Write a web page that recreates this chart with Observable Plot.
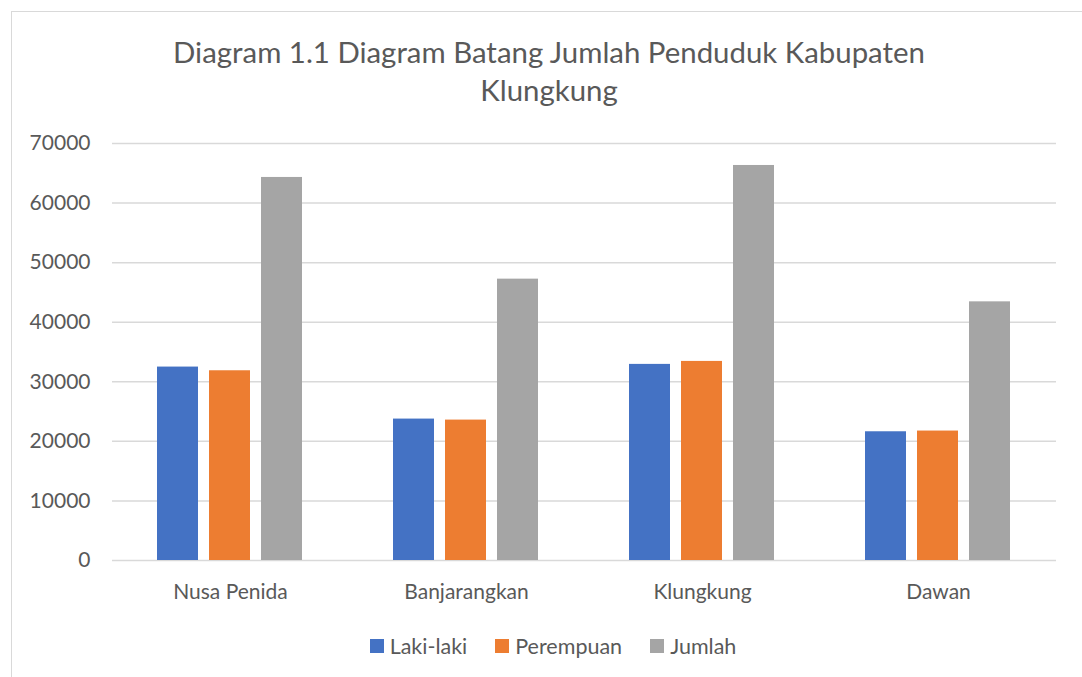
<!DOCTYPE html>
<html>
<head>
<meta charset="utf-8">
<script src="https://cdn.jsdelivr.net/npm/d3@7"></script>
<script src="https://cdn.jsdelivr.net/npm/@observablehq/plot@0.6"></script>
<style>
  html, body { margin:0; padding:0; background:#fff; }
  body { width:1082px; height:677px; position:relative; overflow:hidden; font-family: Lato, "Open Sans", sans-serif; color:#595959; }
  #frame { position:absolute; left:11px; top:11px; width:1200px; height:800px; border-left:1.5px solid #d9d9d9; border-top:1.5px solid #d9d9d9; }
  #title { position:absolute; left:0; width:1098px; top:33px; text-align:center; font-size:29.4px; line-height:38px; color:#595959; }
  #chart { position:absolute; left:0; top:120px; }
  #legend { position:absolute; left:0; width:1106px; top:632px; text-align:center; font-size:21.5px; color:#595959; }
  #legend span.item { display:inline-flex; align-items:center; margin:0 14px; }
  #legend span.sw { display:inline-block; width:14px; height:14px; margin-right:6px; }
</style>
</head>
<body>
<div id="frame"></div>
<div id="title">Diagram 1.1 Diagram Batang Jumlah Penduduk Kabupaten<br>Klungkung</div>
<div id="chart"></div>
<div id="legend"></div>
<script>
const categories = ["Nusa Penida", "Banjarangkan", "Klungkung", "Dawan"];
const series = ["Laki-laki", "Perempuan", "Jumlah"];
const lakiLaki = [32470, 23740, 32920, 21610];
const perempuan = [31850, 23570, 33420, 21730];
const jumlah = [64300, 47230, 66310, 43420];
const yTicks = [0, 10000, 20000, 30000, 40000, 50000, 60000, 70000];
const colors = ["#4472C4", "#ED7D31", "#A5A5A5"];

const seriesValues = [lakiLaki, perempuan, jumlah];
const data = categories.flatMap((c, i) =>
  series.map((s, j) => ({category: c, series: s, value: seriesValues[j][i]}))
);

const chart = Plot.plot({
  width: 1082,
  height: 520,
  marginLeft: 112,
  marginRight: 26,
  marginTop: 23,
  marginBottom: 80,
  style: {fontFamily: "Lato, sans-serif", fontSize: "21px", color: "#595959", background: "transparent", overflow: "visible"},
  fx: {domain: categories, padding: 0, label: null, axis: "bottom", tickSize: 0, tickPadding: 24},
  x: {domain: series, paddingInner: 0.21, paddingOuter: 0.857, axis: null},
  y: {domain: [0, 70000], ticks: yTicks, tickFormat: d3.format("d"), label: null, tickSize: 0, tickPadding: 22},
  color: {domain: series, range: colors},
  marks: [
    Plot.ruleY(yTicks, {stroke: "#d9d9d9", strokeWidth: 1.5}),
    Plot.barY(data, {fx: "category", x: "series", y: "value", fill: "series"})
  ]
});
document.getElementById("chart").appendChild(chart);

const legend = document.getElementById("legend");
series.forEach((s, i) => {
  const item = document.createElement("span");
  item.className = "item";
  const sw = document.createElement("span");
  sw.className = "sw";
  sw.style.background = colors[i];
  item.appendChild(sw);
  item.appendChild(document.createTextNode(s));
  legend.appendChild(item);
});
</script>
</body>
</html>
